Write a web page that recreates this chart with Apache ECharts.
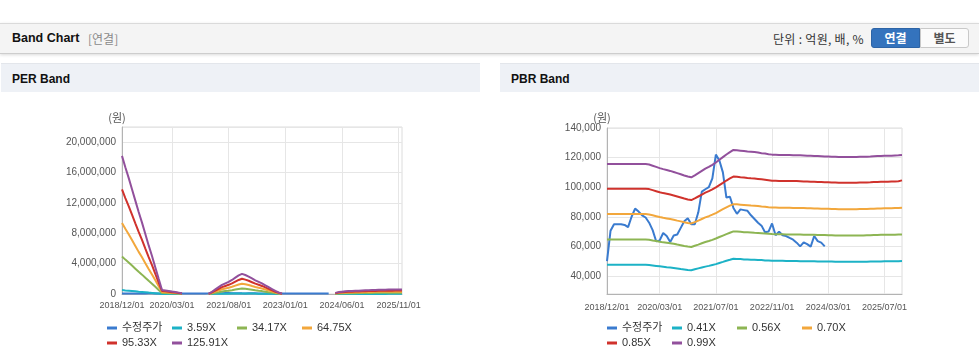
<!DOCTYPE html>
<html><head><meta charset="utf-8">
<script src="https://cdn.jsdelivr.net/npm/echarts@6/dist/echarts.min.js"></script>
<style>
html,body{margin:0;padding:0;background:#fff;width:979px;height:361px;overflow:hidden;font-family:"Liberation Sans","Noto Sans CJK KR",sans-serif;}
#bar{position:absolute;left:0;top:23px;width:979px;height:29px;background:#f4f4f4;border-top:1px solid #dadada;border-bottom:1px solid #cdcdcd;box-shadow:0 1px 3px rgba(0,0,0,0.15);}
.t{position:absolute;line-height:14px;white-space:nowrap;}
.ph{position:absolute;top:63px;height:28px;background:#eef1f6;border-top:1px solid #e3e6eb;}
.btn{position:absolute;top:28px;height:18px;width:47px;line-height:18px;text-align:center;font-size:12px;font-weight:bold;font-family:"Noto Sans CJK KR",sans-serif;}
#per,#pbr{position:absolute;top:92px;height:269px;}
</style></head>
<body>
<div id="bar"></div>
<div class="t" style="left:12px;top:31px;font-size:12.5px;font-weight:bold;color:#111;">Band Chart</div>
<div class="t" style="left:88px;top:32px;font-size:12px;color:#8a8a8a;font-family:'Noto Sans CJK KR',sans-serif;">[연결]</div>
<div class="t" style="left:773px;top:32px;font-size:12px;letter-spacing:0.3px;color:#333;font-family:'Noto Sans CJK KR',sans-serif;">단위 : 억원, 배, %</div>
<div class="btn" style="left:871px;background:#3473bd;border:1px solid #2d64a6;border-radius:3px 0 0 3px;color:#fff;">연결</div>
<div class="btn" style="left:920px;background:#fbfbfb;border:1px solid #c9c9c9;border-radius:0 3px 3px 0;color:#555;">별도</div>
<div class="ph" style="left:1px;width:479px;"></div>
<div class="ph" style="left:500px;width:479px;"></div>
<div class="t" style="left:12px;top:72px;font-size:12px;font-weight:bold;color:#111;">PER Band</div>
<div class="t" style="left:511px;top:72px;font-size:12px;font-weight:bold;color:#111;">PBR Band</div>
<div id="per" style="left:0;width:490px;"></div>
<div id="pbr" style="left:490px;width:489px;"></div>
<script>
// ---------- categories (monthly) ----------
const months = [
"2018/12/01",
"2019/01/01","2019/02/01","2019/03/01","2019/04/01","2019/05/01","2019/06/01","2019/07/01","2019/08/01","2019/09/01","2019/10/01","2019/11/01","2019/12/01",
"2020/01/01","2020/02/01","2020/03/01","2020/04/01","2020/05/01","2020/06/01","2020/07/01","2020/08/01","2020/09/01","2020/10/01","2020/11/01","2020/12/01",
"2021/01/01","2021/02/01","2021/03/01","2021/04/01","2021/05/01","2021/06/01","2021/07/01","2021/08/01","2021/09/01","2021/10/01","2021/11/01","2021/12/01",
"2022/01/01","2022/02/01","2022/03/01","2022/04/01","2022/05/01","2022/06/01","2022/07/01","2022/08/01","2022/09/01","2022/10/01","2022/11/01","2022/12/01",
"2023/01/01","2023/02/01","2023/03/01","2023/04/01","2023/05/01","2023/06/01","2023/07/01","2023/08/01","2023/09/01","2023/10/01","2023/11/01","2023/12/01",
"2024/01/01","2024/02/01","2024/03/01","2024/04/01","2024/05/01","2024/06/01","2024/07/01","2024/08/01","2024/09/01","2024/10/01","2024/11/01","2024/12/01",
"2025/01/01","2025/02/01","2025/03/01","2025/04/01","2025/05/01","2025/06/01","2025/07/01","2025/08/01","2025/09/01","2025/10/01","2025/11/01","2025/12/01"
];
const perTickLabels = ["2018/12/01","2020/03/01","2021/08/01","2023/01/01","2024/06/01","2025/11/01"];
const pbrTickLabels = ["2018/12/01","2020/03/01","2021/07/01","2022/11/01","2024/03/01","2025/07/01"];
const pbrYTicks = [40000,60000,80000,100000,120000,140000];

// ---------- 수정주가 (adjusted price, won) ----------
const price = [50000,70500,75000,75000,75000,74500,73000,80000,85500,83500,81000,79500,76000,71000,63500,64000,69000,67000,63000,67300,68000,72500,77000,79000,75000,75000,83000,97000,98600,100000,106000,122000,118000,110000,93000,93500,86000,82000,85000,84500,84000,81000,78500,76000,74000,69500,70000,75500,67500,70000,67500,67000,65700,64500,62500,60000,62700,61500,59800,67000,63500,62500,60000,
null,null,null,null,null,null,null,null,null,null,null,null,null,null,null,null,null,null,null,null,null,null];

// ---------- PER bands (won) ----------
const perNames = ["수정주가","3.59X","34.17X","64.75X","95.33X","125.91X"];
const per359 = [519000,476000,436000,393000,351000,308000,268000,225000,182000,143000,100000,57000,15000,13000,11000,9000,7000,5000,3000,
null,null,null,null,null,null,null,
1000,9000,17000,26000,34000,40000,46000,53000,61000,70000,76000,71000,66000,58000,51000,46000,40000,33000,26000,19000,11000,6000,1000,
null,null,null,null,null,null,null,null,null,null,null,null,null,null,null,
4000,7000,9000,10000,11000,11000,12000,13000,13000,14000,14000,15000,15000,16000,16000,16000,17000,17000,17000,17000,17000];
const per3417 = [4940000,4530000,4150000,3750000,3340000,2930000,2550000,2140000,1740000,1360000,950000,540000,140000,130000,110000,90000,70000,50000,30000,
null,null,null,null,null,null,null,
5000,80000,160000,240000,330000,380000,430000,500000,580000,660000,720000,680000,620000,560000,490000,430000,380000,310000,240000,180000,110000,50000,10000,
null,null,null,null,null,null,null,null,null,null,null,null,null,null,null,
40000,70000,80000,90000,100000,110000,110000,120000,120000,130000,140000,140000,150000,150000,150000,150000,160000,160000,160000,160000,160000];
const per6475 = [9360000,8590000,7870000,7100000,6330000,5550000,4830000,4060000,3290000,2570000,1800000,1030000,270000,240000,210000,160000,130000,90000,50000,
null,null,null,null,null,null,null,
10000,150000,310000,460000,620000,720000,820000,950000,1110000,1260000,1360000,1290000,1180000,1050000,930000,820000,720000,590000,460000,330000,210000,100000,30000,
null,null,null,null,null,null,null,null,null,null,null,null,null,null,null,
80000,130000,150000,180000,200000,210000,220000,230000,240000,250000,260000,270000,280000,280000,290000,290000,300000,300000,300000,310000,310000];
const per9533 = [13780000,12640000,11580000,10450000,9310000,8180000,7120000,5980000,4850000,3790000,2650000,1510000,400000,360000,300000,240000,190000,140000,80000,
null,null,null,null,null,null,null,
15000,230000,450000,680000,910000,1060000,1210000,1400000,1630000,1850000,2010000,1890000,1740000,1550000,1360000,1210000,1060000,870000,680000,490000,300000,150000,40000,
null,null,null,null,null,null,null,null,null,null,null,null,null,null,null,
110000,190000,230000,260000,290000,300000,320000,330000,350000,360000,380000,390000,410000,420000,420000,430000,440000,440000,450000,450000,450000];
const per12591 = [18200000,16700000,15300000,13800000,12300000,10800000,9400000,7900000,6400000,5000000,3500000,2000000,530000,470000,400000,320000,250000,180000,100000,
null,null,null,null,null,null,null,
20000,300000,600000,900000,1200000,1400000,1600000,1850000,2150000,2450000,2650000,2500000,2300000,2050000,1800000,1600000,1400000,1150000,900000,650000,400000,200000,50000,
null,null,null,null,null,null,null,null,null,null,null,null,null,null,null,
150000,250000,300000,350000,380000,400000,420000,440000,460000,480000,500000,520000,540000,550000,560000,570000,580000,580000,590000,600000,600000];

// ---------- PBR bands (won) ----------
const pbrNames = ["수정주가","0.41X","0.56X","0.70X","0.85X","0.99X"];
const pbr041 = [47600,47600,47600,47600,47600,47600,47600,47600,47600,47600,47600,
47600,47400,47100,46800,46500,46200,45900,45700,45400,45100,44700,44400,44100,43900,
44500,45100,45700,46300,46800,47400,48000,48800,49500,50300,50900,51600,
51500,51400,51200,51100,51000,50900,50800,50700,50500,50400,50200,
50200,50200,50200,50100,50100,50100,50100,50000,50000,49900,49900,49900,49800,49800,49700,49700,49700,49600,
49600,49600,49600,49600,49600,49600,
49600,49600,49600,49700,49800,49800,49800,49900,49900,49900,50000,50000,50100];
const pbr056 = [64700,64700,64700,64700,64700,64700,64700,64700,64700,64700,64700,
64700,64500,64000,63600,63100,62700,62400,62100,61700,61200,60800,60300,59900,59600,
60400,61200,62100,62900,63600,64400,65300,66300,67300,68300,69200,70100,
70000,69800,69600,69500,69400,69200,69100,68900,68700,68500,68300,
68200,68200,68200,68100,68100,68100,68100,68000,67900,67900,67800,67800,67700,67700,67600,67500,67500,67400,
67400,67400,67400,67400,67400,67400,
67400,67400,67500,67500,67700,67700,67800,67800,67800,67900,67900,68000,68100];
const pbr070 = [81800,81800,81800,81800,81800,81800,81800,81800,81800,81800,81800,
81800,81500,81000,80400,79800,79300,78900,78500,78000,77400,76900,76300,75800,75500,
76400,77400,78500,79600,80400,81400,82500,83800,85100,86300,87500,88500,
88400,88200,88000,87800,87600,87500,87300,87000,86800,86500,86300,
86200,86100,86100,86100,86100,86000,86000,85900,85900,85800,85700,85600,85600,85500,85400,85400,85300,85200,
85100,85100,85100,85100,85100,85100,
85200,85200,85300,85400,85500,85600,85600,85700,85700,85800,85900,85900,86100];
const pbr085 = [99000,99000,99000,99000,99000,99000,99000,99000,99000,99000,99000,
98900,98700,98000,97300,96600,96000,95500,95000,94400,93700,93000,92300,91700,91300,
92400,93700,95000,96300,97300,98500,99900,101400,102900,104500,105900,107200,
107000,106700,106500,106200,106000,105900,105600,105300,105000,104700,104400,
104300,104200,104200,104100,104100,104100,104100,104000,103900,103800,103700,103600,103500,103500,103400,103300,103200,103100,
103000,103000,103000,103000,103000,103000,
103100,103100,103200,103300,103500,103500,103600,103700,103700,103800,103900,104000,104600];
const pbr099 = [115700,115700,115700,115700,115700,115700,115700,115700,115700,115700,115700,
115600,115300,114500,113700,112900,112200,111600,111000,110300,109500,108700,107900,107200,106700,
108000,109500,111000,112500,113700,115100,116700,118500,120300,122100,123700,125200,
125000,124700,124400,124100,123900,123700,123400,123000,122700,122300,122000,
121900,121800,121800,121700,121700,121600,121600,121500,121400,121300,121200,121100,121000,120900,120800,120700,120600,120500,
120400,120400,120400,120400,120400,120400,
120500,120500,120600,120700,120900,121000,121100,121200,121200,121300,121400,121500,121700];

const colors = ["#3a7bcf","#1cb2c6","#8db553","#f2a73c","#d0322c","#92509c"];
const FONT = "'Liberation Sans','Noto Sans CJK KR',sans-serif";

function buildOption(cfg) {
  const showIdx = (i) => cfg.tickLabels.indexOf(months[i]) >= 0;
  const series = cfg.names.map((n, k) => ({
    name: n, type: 'line', data: cfg.data[k], showSymbol: false, symbol: 'none',
    lineStyle: { width: 2, color: colors[k] }, itemStyle: { color: colors[k] },
    connectNulls: false, silent: true, animation: false
  }));
  const yAxis = Object.assign({
    type: 'value', name: '(원)', nameLocation: 'end', nameGap: cfg.nameGap,
    nameTextStyle: { fontSize: 11, color: '#555', fontFamily: "'Noto Sans CJK KR',sans-serif", align: 'center', padding: [0, 10, 0, 0] },
    axisLine: { show: true, lineStyle: { color: '#b3b3b3' } },
    axisLabel: { fontSize: 10, color: '#555', margin: 6, fontFamily: FONT,
      formatter: (v) => Number(v).toLocaleString('en-US') },
    splitLine: { show: true, lineStyle: { color: '#e6e6e6' } }
  }, cfg.yAxis);
  yAxis.axisLabel = Object.assign(yAxis.axisLabel, cfg.yLabelExtra || {});
  return {
    animation: false,
    grid: Object.assign({ show: true, borderColor: '#dcdcdc', borderWidth: 1, backgroundColor: 'transparent' }, cfg.grid),
    legend: {
      data: cfg.names, left: cfg.legendLeft, top: 230, width: 265, padding: 0,
      icon: 'rect', itemWidth: 10, itemHeight: 3, itemGap: 3, selectedMode: false,
      textStyle: { fontSize: 11, color: '#333', width: 47, lineHeight: 12, fontFamily: FONT }
    },
    xAxis: {
      type: 'category', data: months, boundaryGap: false,
      axisLine: { lineStyle: { color: '#b3b3b3' } },
      axisTick: { show: false },
      axisLabel: { interval: (i) => showIdx(i), fontSize: 9, color: '#555', margin: cfg.xMargin, fontFamily: FONT },
      splitLine: { show: true, interval: (i) => showIdx(i), lineStyle: { color: '#e6e6e6' } }
    },
    yAxis: yAxis,
    series: series
  };
}

const perChart = echarts.init(document.getElementById('per'), null, { renderer: 'canvas' });
perChart.setOption(buildOption({
  names: perNames,
  data: [price, per359, per3417, per6475, per9533, per12591],
  tickLabels: perTickLabels,
  grid: { left: 122, right: 88, top: 35, bottom: 67 },
  yAxis: { min: 0, max: 22000000, interval: 4000000 },
  yLabelExtra: { showMaxLabel: false },
  legendLeft: 107, xMargin: 7.5, nameGap: 4
}));

const pbrChart = echarts.init(document.getElementById('pbr'), null, { renderer: 'canvas' });
pbrChart.setOption(buildOption({
  names: pbrNames,
  data: [price, pbr041, pbr056, pbr070, pbr085, pbr099],
  tickLabels: pbrTickLabels,
  grid: { left: 117, right: 77, top: 36, bottom: 67 },
  yAxis: { min: 27800, max: 140000, axisTick: { show: false, customValues: pbrYTicks } },
  yLabelExtra: { customValues: pbrYTicks },
  legendLeft: 117, xMargin: 9.5, nameGap: 4
}));
</script>
</body></html>
